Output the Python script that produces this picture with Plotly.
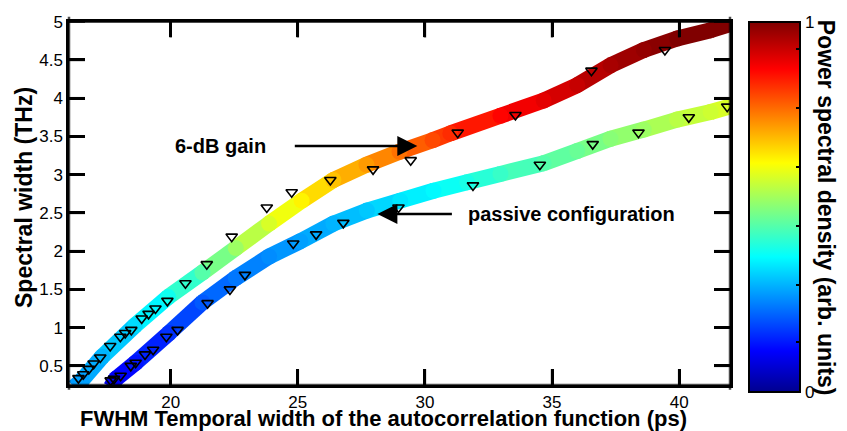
import plotly.graph_objects as go
from plotly.colors import sample_colorscale

# ---------------- data ----------------
# 6-dB gain: smooth band (centre line) and its power-spectral-density colour value
gain_band_x = [16.2, 16.5, 17.3, 18.6, 19.9, 21.25, 22.56, 23.87, 25.15, 26.4, 27.7, 29.0,
               30.3, 31.0, 32.97, 34.67, 35.99, 37.3, 38.61, 39.92, 41.24, 42.3]
gain_band_y = [0.22, 0.31, 0.62, 1.03, 1.40, 1.72, 2.04, 2.36, 2.66, 2.93, 3.13, 3.30,
               3.45, 3.54, 3.77, 3.97, 4.17, 4.43, 4.63, 4.78, 4.89, 5.00]
gain_band_psd = [0.26, 0.27, 0.29, 0.33, 0.38, 0.45, 0.52, 0.58, 0.63, 0.68, 0.72, 0.76,
                 0.80, 0.83, 0.87, 0.90, 0.93, 0.96, 0.98, 1.0, 1.0, 1.0]

# passive configuration band
pass_band_x = [17.65, 17.84, 18.62, 19.94, 21.25, 22.56, 23.87, 25.1, 26.4, 27.72, 29.03,
               30.34, 31.66, 32.97, 34.67, 35.99, 37.3, 38.61, 39.92, 41.24, 42.3]
pass_band_y = [0.22, 0.33, 0.54, 0.93, 1.33, 1.65, 1.93, 2.13, 2.36, 2.53, 2.66,
               2.79, 2.90, 3.01, 3.15, 3.31, 3.47, 3.59, 3.72, 3.82, 3.92]
pass_band_psd = [0.09, 0.10, 0.13, 0.16, 0.20, 0.23, 0.25, 0.27, 0.29, 0.31, 0.34,
                 0.36, 0.39, 0.42, 0.45, 0.47, 0.50, 0.52, 0.55, 0.57, 0.59]

# measured points (triangles)
gain_pts_x = [16.37, 16.56, 16.78, 16.97, 17.23, 17.62, 18.02, 18.21, 18.45, 18.86, 19.13,
              19.40, 19.87, 20.58, 21.42, 22.40, 23.78, 24.76, 26.28, 27.96, 29.44, 31.29,
              33.56, 36.55, 39.44]
gain_pts_y = [0.34, 0.39, 0.46, 0.53, 0.61, 0.76, 0.88, 0.93, 0.97, 1.12, 1.18,
              1.25, 1.35, 1.58, 1.83, 2.19, 2.57, 2.77, 2.93, 3.07, 3.19, 3.55,
              3.78, 4.36, 4.63]
pass_pts_x = [17.64, 17.77, 18.03, 18.43, 18.62, 18.99, 19.31, 19.83, 20.27, 21.45, 22.33,
              22.92, 24.82, 25.72, 26.79, 28.96, 31.89, 34.52, 36.60, 38.40, 40.38, 41.89]
pass_pts_y = [0.31, 0.33, 0.37, 0.50, 0.54, 0.65, 0.71, 0.88, 0.97, 1.32, 1.50,
              1.69, 2.10, 2.22, 2.37, 2.57, 2.86, 3.13, 3.40, 3.55, 3.75, 3.89]

x_range = [16, 42]
y_range = [0.25, 5]
x_ticks = [20, 25, 30, 35, 40]
y_ticks = [0.5, 1, 1.5, 2, 2.5, 3, 3.5, 4, 4.5, 5]
cbar_ticks = [0, 0.135, 0.289, 0.449, 0.608, 0.768, 0.927, 1]
cbar_labels = ['0', '', '', '', '', '', '', '1']

# ---------------- style / geometry ----------------
JET = [[0.0, 'rgb(0,0,143)'], [0.111, 'rgb(0,0,255)'], [0.365, 'rgb(0,255,255)'],
       [0.619, 'rgb(255,255,0)'], [0.873, 'rgb(255,0,0)'], [1.0, 'rgb(128,0,0)']]
FONT = 'Liberation Sans, Arial, sans-serif'
BAND_W = 16
TICK_PX = 16
LW = 2.5
LINE_SYM_SCALE = 1.4   # plotly's line-ew / line-ns symbols are 1.4 x marker size long

W, H = 847, 431
L, R, T, B = 69, 730, 13, 384          # plot area in pixels
CB_L, CB_R, CB_T, CB_B = 749, 800, 13, 383   # colour bar in pixels
PW, PH = R - L, B - T


def fx(px):   # pixel -> paper (figure) fraction
    return px / W


def fy(py):
    return (H - py) / H


def px2dx(px):  # pixel -> data x, through the axis range
    return x_range[0] + (px - L) / PW * (x_range[1] - x_range[0])


def px2dy(py):
    return y_range[0] + (B - py) / PH * (y_range[1] - y_range[0])


fig = go.Figure()


def add_band(bx, by, bv):
    mids = [(bv[i] + bv[i + 1]) / 2 for i in range(len(bv) - 1)]
    cols = sample_colorscale(JET, mids)
    for i in range(len(bx) - 1):
        fig.add_trace(go.Scatter(x=[bx[i], bx[i + 1]], y=[by[i], by[i + 1]], mode='lines',
                                 line=dict(color=cols[i], width=BAND_W),
                                 hoverinfo='skip', showlegend=False))
    fig.add_trace(go.Scatter(x=bx, y=by, mode='markers',
                             marker=dict(size=BAND_W, color=bv, coloraxis='coloraxis',
                                         line=dict(width=0)),
                             hoverinfo='skip', showlegend=False))


add_band(gain_band_x, gain_band_y, gain_band_psd)
add_band(pass_band_x, pass_band_y, pass_band_psd)

for px_, py_, nm in [(gain_pts_x, gain_pts_y, '6-dB gain'),
                     (pass_pts_x, pass_pts_y, 'passive configuration')]:
    fig.add_trace(go.Scatter(x=px_, y=py_, mode='markers', name=nm, showlegend=False,
                             marker=dict(symbol='triangle-down-open', size=10, color='black',
                                         line=dict(width=1.6, color='black'))))

# ---- frame, inside tick marks and colour-bar outline, drawn as line markers ----
fr_x, fr_y, fr_sym, fr_size = [], [], [], []


def hline(px0, px1, py):
    fr_x.append(px2dx((px0 + px1) / 2)); fr_y.append(px2dy(py))
    fr_sym.append('line-ew'); fr_size.append(abs(px1 - px0) / LINE_SYM_SCALE)


def vline(px, py0, py1):
    fr_x.append(px2dx(px)); fr_y.append(px2dy((py0 + py1) / 2))
    fr_sym.append('line-ns'); fr_size.append(abs(py1 - py0) / LINE_SYM_SCALE)


hline(L - 1, R + 1, B); hline(L - 1, R + 1, T)
vline(L, T - 1, B + 1); vline(R, T - 1, B + 1)
for t in x_ticks:
    p = L + (t - x_range[0]) / (x_range[1] - x_range[0]) * PW
    vline(p, B - TICK_PX, B); vline(p, T, T + TICK_PX)
for t in y_ticks:
    p = B - (t - y_range[0]) / (y_range[1] - y_range[0]) * PH
    hline(L, L + TICK_PX, p); hline(R - TICK_PX, R, p)
fig.add_trace(go.Scatter(x=fr_x, y=fr_y, mode='markers', cliponaxis=False,
                         marker=dict(symbol=fr_sym, size=fr_size, color='black',
                                     line=dict(width=LW, color='black')),
                         hoverinfo='skip', showlegend=False))

fr_x, fr_y, fr_sym, fr_size = [], [], [], []
hline(CB_L - 1, CB_R + 1, CB_B); hline(CB_L - 1, CB_R + 1, CB_T)
vline(CB_L, CB_T - 1, CB_B + 1); vline(CB_R, CB_T - 1, CB_B + 1)
for v in cbar_ticks[1:-1]:
    p = CB_B - v * (CB_B - CB_T)
    hline(CB_L, CB_L + 5, p); hline(CB_R - 5, CB_R, p)
fig.add_trace(go.Scatter(x=fr_x, y=fr_y, mode='markers', cliponaxis=False,
                         marker=dict(symbol=fr_sym, size=fr_size, color='black',
                                     line=dict(width=2, color='black')),
                         hoverinfo='skip', showlegend=False))

tickfont = dict(family=FONT, size=17, color='black')
axis_style = dict(showline=True, linewidth=LW, linecolor='black', mirror='ticks',
                  ticks='inside', ticklen=TICK_PX, tickwidth=LW, tickcolor='black',
                  showgrid=False, zeroline=False, tickfont=tickfont)

fig.update_layout(
    width=W, height=H,
    margin=dict(l=0, r=0, t=0, b=0),
    paper_bgcolor='white', plot_bgcolor='rgba(0,0,0,0)',
    showlegend=False,
    xaxis=dict(domain=[fx(L), fx(R)], range=x_range, tickmode='array', tickvals=x_ticks,
               anchor='y', **axis_style),
    yaxis=dict(domain=[fy(B), fy(T)], range=y_range, tickmode='array', tickvals=y_ticks,
               anchor='x', **axis_style),
    coloraxis=dict(
        colorscale=JET, cmin=0, cmax=1,
        colorbar=dict(thickness=CB_R - CB_L, thicknessmode='pixels', len=CB_B - CB_T,
                      lenmode='pixels', x=fx(CB_L), xanchor='left', xpad=0,
                      y=fy(CB_T), yanchor='top', ypad=0,
                      title=dict(text='', side='right'),
                      outlinewidth=2, outlinecolor='black',
                      tickvals=cbar_ticks, ticktext=cbar_labels,
                      ticks='inside', ticklen=5, tickwidth=2, tickcolor='black',
                      tickfont=tickfont)),
)

bold = dict(family=FONT, color='black')
fig.add_annotation(text='<b>Spectral width (THz)</b>', xref='paper', yref='paper',
                   x=fx(24), y=fy(193), xanchor='center', yanchor='middle',
                   textangle=-90, showarrow=False, font=dict(size=23, **bold))
fig.add_annotation(text='<b>FWHM Temporal width of the autocorrelation function (ps)</b>',
                   xref='paper', yref='paper', x=fx(383), y=fy(418),
                   xanchor='center', yanchor='middle', showarrow=False,
                   font=dict(size=22, **bold))
fig.add_annotation(text='<b>Power spectral density (arb. units)</b>', xref='paper', yref='paper',
                   x=fx(826), y=fy(203), xanchor='center', yanchor='middle',
                   textangle=90, showarrow=False, font=dict(size=23, **bold))

# labels with arrows
fig.add_annotation(text='<b>6-dB gain</b>', x=21.94, y=3.376, xanchor='center',
                   yanchor='middle', showarrow=False, font=dict(size=20, **bold))
fig.add_annotation(text='', x=29.70, y=3.376, ax=-124, ay=0, showarrow=True,
                   arrowhead=2, arrowsize=1.6, arrowwidth=2.5, arrowcolor='black')
fig.add_annotation(text='<b>passive configuration</b>', x=35.76, y=2.48, xanchor='center',
                   yanchor='middle', showarrow=False, font=dict(size=20, **bold))
fig.add_annotation(text='', x=28.13, y=2.487, ax=76, ay=0, showarrow=True,
                   arrowhead=2, arrowsize=1.6, arrowwidth=2.5, arrowcolor='black')

fig.write_html('out.html')
